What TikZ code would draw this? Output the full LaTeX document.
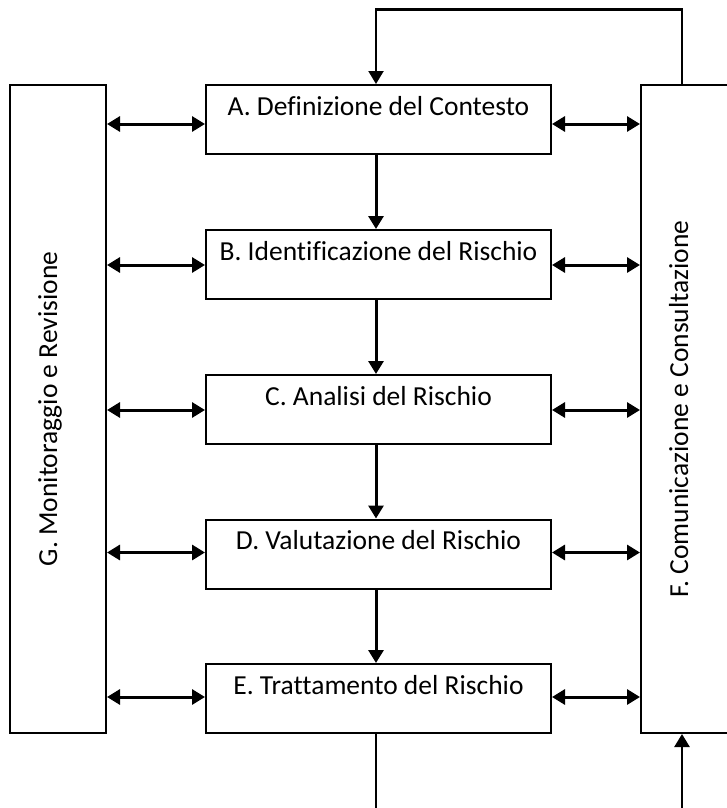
\documentclass[tikz,border=0pt]{standalone}
\usepackage{fontspec}
\setmainfont{Carlito}[Ligatures=NoCommon]
\usetikzlibrary{arrows.meta}
\begin{document}
\begin{tikzpicture}[x=1pt,y=-1pt,
  stepbox/.style={draw, line width=2pt, inner sep=0pt, minimum width=345pt,
    text height=30pt, text depth=39pt, font=\fontsize{27.5}{30}\selectfont},
  sidebox/.style={draw, line width=2pt, inner sep=0pt, rotate=90,
    minimum width=648pt, text height=47pt, text depth=49pt,
    font=\fontsize{27.5}{30}\selectfont},
  tip/.style={-{Triangle[length=13pt,width=15pt]}},
  dbl/.style={{Triangle[length=13pt,width=15pt]}-{Triangle[length=13pt,width=15pt]}, line width=3pt},
  flow/.style={tip, line width=3pt},
  loop/.style={line width=2.2pt}
]
\useasboundingbox (0,0) rectangle (726,808);
% side boxes
\node[sidebox] (G) at (58,409) {G. Monitoraggio e Revisione};
\node[sidebox] (F) at (689,409) {F. Comunicazione e Consultazione};
% step boxes
\node[stepbox] (A) at (378.5,119.5) {A. Definizione del Contesto};
\node[stepbox] (B) at (378.5,264.5) {B. Identificazione del Rischio};
\node[stepbox] (C) at (378.5,409.5) {C. Analisi del Rischio};
\node[stepbox] (D) at (378.5,554) {D. Valutazione del Rischio};
\node[stepbox] (E) at (378.5,698.5) {E. Trattamento del Rischio};
% row heights for the double arrows
\coordinate (ya) at (0,124);
\coordinate (yb) at (0,265);
\coordinate (yc) at (0,410);
\coordinate (yd) at (0,552.5);
\coordinate (ye) at (0,697);
\foreach \n/\y in {A/ya,B/yb,C/yc,D/yd,E/ye}{
  \draw[dbl] (G.south |- \y) -- (\n.west |- \y);
  \draw[dbl] (\n.east |- \y) -- (F.north |- \y);
}
% vertical flow
\coordinate (cx) at (376,0);
\draw[flow] (A.south -| cx) -- (B.north -| cx);
\draw[flow] (B.south -| cx) -- (C.north -| cx);
\draw[flow] (C.south -| cx) -- (D.north -| cx);
\draw[flow] (D.south -| cx) -- (E.north -| cx);
% feedback loop at the top
\coordinate (fx) at (682,0);
\coordinate (topy) at (0,9.5);
\draw[loop, tip] (F.east -| fx) -- (fx |- topy) -- (cx |- topy) -- (A.north -| cx);
% bottom lines
\coordinate (botL) at (376,812);
\coordinate (botR) at (682,812);
\draw[loop] (E.south -| cx) -- (botL);
\draw[loop, tip, line width=2.6pt] (botR) -- (F.west -| fx);
\end{tikzpicture}
\end{document}
